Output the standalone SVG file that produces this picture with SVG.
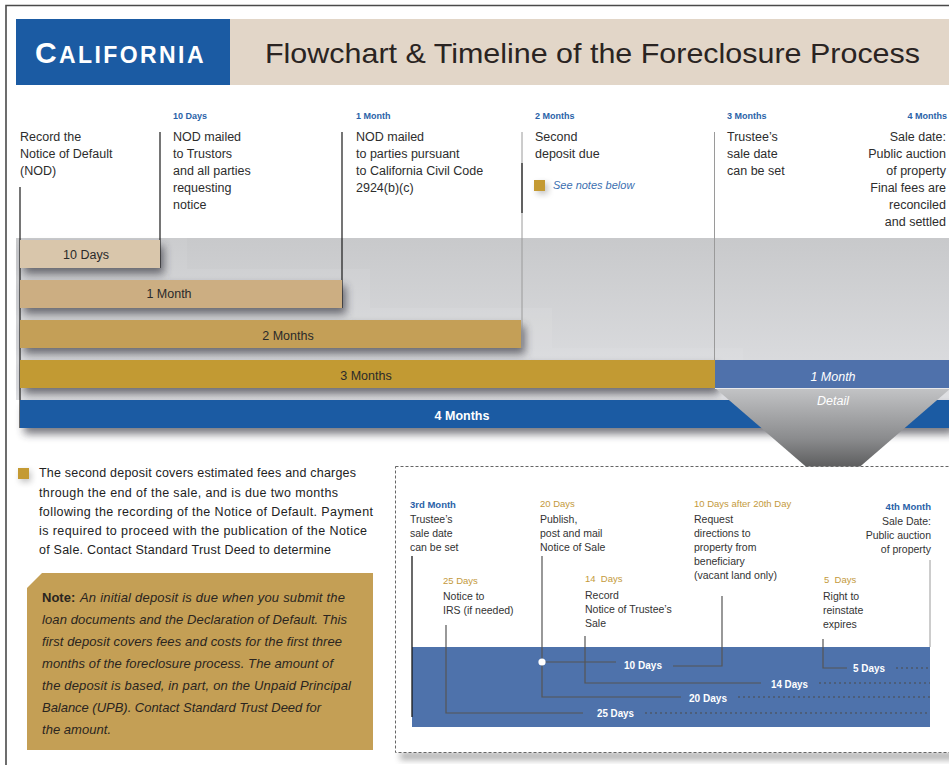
<svg xmlns="http://www.w3.org/2000/svg" width="949" height="765" viewBox="0 0 949 765">
  <defs>
    <style>
      .sans { font-family: "Liberation Sans", Arial, sans-serif; }
      .body { font-family: "Liberation Sans", Arial, sans-serif; font-size: 12.5px; fill: #2d2d2d; }
      .tick { font-family: "Liberation Sans", Arial, sans-serif; font-size: 9px; font-weight: bold; fill: #2a62a8; }
      .bar-label { font-family: "Liberation Sans", Arial, sans-serif; font-size: 12.5px; fill: #2a2a2a; text-anchor: middle; }
      .bar-label-w { font-family: "Liberation Sans", Arial, sans-serif; font-size: 12.5px; fill: #ffffff; text-anchor: middle; }
      .dtext { font-family: "Liberation Sans", Arial, sans-serif; font-size: 10.5px; fill: #333; }
      .dgold { font-family: "Liberation Sans", Arial, sans-serif; font-size: 9.5px; fill: #c49a3c; }
      .dblue { font-family: "Liberation Sans", Arial, sans-serif; font-size: 9.5px; font-weight: bold; fill: #2a62a8; }
      .dspan { font-family: "Liberation Sans", Arial, sans-serif; font-size: 11px; font-weight: bold; fill: #fff; text-anchor: middle; }
      .para { font-family: "Liberation Sans", Arial, sans-serif; font-size: 12.5px; fill: #222; }
      .note { font-family: "Liberation Sans", Arial, sans-serif; font-size: 13px; font-style: italic; fill: #2a2520; }
      .tl-dark { stroke: #1a1a1a; stroke-width: 1.2; fill: none; }
      .tl-gray { stroke: #9a9a9a; stroke-width: 1; fill: none; }
      .d-line { stroke: #555; stroke-width: 1.2; fill: none; }
      .d-dot { stroke: #4a4a4a; stroke-width: 1.2; stroke-dasharray: 2 3; fill: none; }
    </style>
    <linearGradient id="bandGrad" x1="0" y1="0" x2="0" y2="1">
      <stop offset="0" stop-color="#c8c9cb"/>
      <stop offset="1" stop-color="#dfe0e3"/>
    </linearGradient>
    <linearGradient id="funnelGrad" x1="0" y1="0" x2="0" y2="1">
      <stop offset="0" stop-color="#c3c4c6"/>
      <stop offset="0.5" stop-color="#8a8b8d"/>
      <stop offset="1" stop-color="#383838"/>
    </linearGradient>
    <filter id="barShadow" x="-10%" y="-30%" width="130%" height="200%">
      <feGaussianBlur stdDeviation="4"/>
    </filter>
    <filter id="softBlur" x="-50%" y="-50%" width="200%" height="200%">
      <feGaussianBlur stdDeviation="3"/>
    </filter>
  </defs>

  <!-- page frame -->
  <rect x="0" y="0" width="949" height="765" fill="#ffffff"/>
  <path d="M6,765 V5.5 H949" stroke="#4a4a4a" stroke-width="1.6" fill="none"/>

  <!-- header -->
  <g id="header">
    <rect x="16" y="19" width="214" height="66" fill="#1b5ba3"/>
    <rect x="230" y="19" width="719" height="66" fill="#e2d6c8"/>
    <text x="35" y="63" class="sans" fill="#ffffff" font-weight="bold" letter-spacing="2.4"><tspan font-size="30">C</tspan><tspan font-size="23">ALIFORNIA</tspan></text>
    <text x="265" y="63" class="sans" font-size="28" fill="#2a2422" textLength="655" lengthAdjust="spacingAndGlyphs">Flowchart &amp; Timeline of the Foreclosure Process</text>
  </g>

  <!-- shaded band behind the bars -->
  <rect x="16" y="238" width="933" height="162" fill="url(#bandGrad)"/>
  <g fill="#ffffff" opacity="0.07">
    <rect x="20" y="238" width="167" height="42"/>
    <rect x="20" y="269" width="350" height="51"/>
    <rect x="20" y="308" width="532" height="52"/>
    <rect x="20" y="348" width="723" height="52"/>
  </g>

  <!-- bar shadows -->
  <g fill="#30333a" opacity="0.65" filter="url(#barShadow)">
    <rect x="24" y="246" width="140" height="28"/>
    <rect x="24" y="286" width="322" height="28"/>
    <rect x="24" y="326" width="501" height="28"/>
    <rect x="24" y="366" width="695" height="28"/>
    <rect x="24" y="406" width="930" height="28"/>
  </g>

  <!-- timeline markers -->
  <g id="connectors">
    <line x1="20" y1="187" x2="20" y2="428" class="tl-dark"/>
    <line x1="160" y1="132" x2="160" y2="268" class="tl-dark"/>
    <line x1="342" y1="132" x2="342" y2="308" class="tl-dark"/>
    <line x1="522" y1="132" x2="522" y2="348" class="tl-gray"/>
    <line x1="522" y1="163" x2="522" y2="213" class="tl-dark"/>
    <line x1="714.5" y1="132" x2="714.5" y2="360" class="tl-gray"/>
  </g>

  <!-- duration bars -->
  <g id="bar-10days">
    <rect x="20" y="240" width="140" height="28" fill="#d9c6ab"/>
    <text x="86" y="259" class="bar-label">10 Days</text>
  </g>
  <g id="bar-1month">
    <rect x="20" y="280" width="322" height="28" fill="#ccae82"/>
    <text x="169" y="298" class="bar-label">1 Month</text>
  </g>
  <g id="bar-2months">
    <rect x="20" y="320" width="501" height="28" fill="#c49f57"/>
    <text x="288" y="340" class="bar-label">2 Months</text>
  </g>
  <g id="bar-3months">
    <rect x="20" y="360" width="695" height="28" fill="#c29a33"/>
    <text x="366" y="380" class="bar-label">3 Months</text>
  </g>
  <g id="bar-4months">
    <rect x="20" y="400" width="929" height="28" fill="#1b5ba3"/>
    <text x="462" y="420" class="bar-label-w" font-weight="bold">4 Months</text>
  </g>
  <g id="bar-last-month">
    <rect x="715" y="360" width="234" height="28" fill="#4f71ab"/>
    <text x="833" y="381" class="bar-label-w" font-style="italic">1 Month</text>
  </g>

  <!-- funnel into detail -->
  <g id="detail-funnel">
    <polygon points="715,388 951,388 833,490" fill="url(#funnelGrad)"/>
    <line x1="715" y1="388.5" x2="949" y2="388.5" stroke="#e8e8ea" stroke-width="1"/>
    <text x="833" y="405" class="bar-label-w" font-style="italic">Detail</text>
  </g>

  <!-- milestones along the top -->
  <g id="step-record">
    <text class="body"><tspan x="20" y="141">Record the</tspan><tspan x="20" y="158">Notice of Default</tspan><tspan x="20" y="175">(NOD)</tspan></text>
  </g>
  <g id="step-10days">
    <text x="173" y="119" class="tick">10 Days</text>
    <text class="body"><tspan x="173" y="141">NOD mailed</tspan><tspan x="173" y="158">to Trustors</tspan><tspan x="173" y="175">and all parties</tspan><tspan x="173" y="192">requesting</tspan><tspan x="173" y="209">notice</tspan></text>
  </g>
  <g id="step-1month">
    <text x="356" y="119" class="tick">1 Month</text>
    <text class="body"><tspan x="356" y="141">NOD mailed</tspan><tspan x="356" y="158">to parties pursuant</tspan><tspan x="356" y="175">to California Civil Code</tspan><tspan x="356" y="192">2924(b)(c)</tspan></text>
  </g>
  <g id="step-2months">
    <text x="535" y="119" class="tick">2 Months</text>
    <text class="body"><tspan x="535" y="141">Second</tspan><tspan x="535" y="158">deposit due</tspan></text>
    <rect x="537" y="183" width="11" height="11" fill="#555" opacity="0.35" filter="url(#softBlur)"/>
    <rect x="534" y="180" width="11" height="11" fill="#c49a33"/>
    <text x="553" y="189" class="sans" font-size="11" font-style="italic" fill="#3b6fb0">See notes below</text>
  </g>
  <g id="step-3months">
    <text x="727" y="119" class="tick">3 Months</text>
    <text class="body"><tspan x="727" y="141">Trustee’s</tspan><tspan x="727" y="158">sale date</tspan><tspan x="727" y="175">can be set</tspan></text>
  </g>
  <g id="step-4months">
    <text x="947" y="119" class="tick" text-anchor="end">4 Months</text>
    <text class="body" text-anchor="end"><tspan x="946" y="141">Sale date:</tspan><tspan x="946" y="158">Public auction</tspan><tspan x="946" y="175">of property</tspan><tspan x="946" y="192">Final fees are</tspan><tspan x="946" y="209">reconciled</tspan><tspan x="946" y="226">and settled</tspan></text>
  </g>

  <!-- second deposit note -->
  <g id="deposit-note">
    <rect x="20" y="471" width="11" height="11" fill="#555" opacity="0.35" filter="url(#softBlur)"/>
    <rect x="18" y="468" width="11" height="11" fill="#c49a33"/>
    <text class="para">
      <tspan x="39" y="477" textLength="317" lengthAdjust="spacing">The second deposit covers estimated fees and charges</tspan>
      <tspan x="39" y="497" textLength="299" lengthAdjust="spacing">through the end of the sale, and is due two months</tspan>
      <tspan x="39" y="516" textLength="334" lengthAdjust="spacing">following the recording of the Notice of Default. Payment</tspan>
      <tspan x="39" y="535" textLength="328" lengthAdjust="spacing">is required to proceed with the publication of the Notice</tspan>
      <tspan x="39" y="554" textLength="292" lengthAdjust="spacing">of Sale. Contact Standard Trust Deed to determine</tspan>
    </text>
  </g>

  <g id="initial-deposit-note">
    <polygon points="42,573 373,573 373,750 27,750 27,588" fill="#c49f55"/>
    <text class="note">
      <tspan x="42" y="602" font-style="normal" font-weight="bold">Note:</tspan>
      <tspan x="80" y="602" textLength="265" lengthAdjust="spacing">An initial deposit is due when you submit the</tspan>
      <tspan x="42" y="624" textLength="305" lengthAdjust="spacing">loan documents and the Declaration of Default. This</tspan>
      <tspan x="42" y="646" textLength="300" lengthAdjust="spacing">first deposit covers fees and costs for the first three</tspan>
      <tspan x="42" y="668" textLength="291" lengthAdjust="spacing">months of the foreclosure process. The amount of</tspan>
      <tspan x="42" y="690" textLength="309" lengthAdjust="spacing">the deposit is based, in part, on the Unpaid Principal</tspan>
      <tspan x="42" y="712" textLength="279" lengthAdjust="spacing">Balance (UPB). Contact Standard Trust Deed for</tspan>
      <tspan x="42" y="734" textLength="69" lengthAdjust="spacing">the amount.</tspan>
    </text>
  </g>

  <!-- detail panel: the final month -->
  <g id="detail-panel">
    <rect x="400" y="752" width="560" height="8" fill="#555" opacity="0.45" filter="url(#softBlur)"/>
    <rect x="395.5" y="466.5" width="570" height="286" fill="#ffffff" stroke="#666" stroke-width="1" stroke-dasharray="3 2"/>
    <rect x="412" y="647" width="518" height="80" fill="#4e72ab"/>
  </g>

  <g id="detail-connectors">
    <line x1="412" y1="556" x2="412" y2="717" stroke="#1a1a1a" stroke-width="1.3"/>
    <line x1="930" y1="560" x2="930" y2="647" stroke="#9a9a9a" stroke-width="1"/>
    <polyline points="446,625 446,713 583,713" class="d-line"/>
    <line x1="645" y1="713" x2="930" y2="713" class="d-dot"/>
    <polyline points="542,556 542,697 681,697" class="d-line"/>
    <line x1="738" y1="697" x2="930" y2="697" class="d-dot"/>
    <polyline points="585,636 585,683 761,683" class="d-line"/>
    <line x1="819" y1="683" x2="930" y2="683" class="d-dot"/>
    <line x1="542" y1="662" x2="616" y2="662" class="d-line"/>
    <polyline points="673,666 722,666 722,596" class="d-line"/>
    <polyline points="823,639 823,668 847,668" class="d-line"/>
    <line x1="896" y1="668" x2="930" y2="668" class="d-dot"/>
    <circle cx="542" cy="662" r="3.6" fill="#ffffff"/>
  </g>

  <g id="d-3rd-month">
    <text x="410" y="508" class="dblue">3rd Month</text>
    <text class="dtext"><tspan x="410" y="523">Trustee’s</tspan><tspan x="410" y="537">sale date</tspan><tspan x="410" y="551">can be set</tspan></text>
  </g>
  <g id="d-20-days">
    <text x="540" y="507" class="dgold">20 Days</text>
    <text class="dtext"><tspan x="540" y="523">Publish,</tspan><tspan x="540" y="537">post and mail</tspan><tspan x="540" y="551">Notice of Sale</tspan></text>
  </g>
  <g id="d-10-days-after">
    <text x="694" y="507" class="dgold">10 Days after 20th Day</text>
    <text class="dtext"><tspan x="694" y="523">Request</tspan><tspan x="694" y="537">directions to</tspan><tspan x="694" y="551">property from</tspan><tspan x="694" y="565">beneficiary</tspan><tspan x="694" y="579">(vacant land only)</tspan></text>
  </g>
  <g id="d-4th-month">
    <text x="931" y="510" class="dblue" text-anchor="end">4th Month</text>
    <text class="dtext" text-anchor="end"><tspan x="931" y="525">Sale Date:</tspan><tspan x="931" y="539">Public auction</tspan><tspan x="931" y="553">of property</tspan></text>
  </g>
  <g id="d-25-days">
    <text x="443" y="584" class="dgold">25 Days</text>
    <text class="dtext"><tspan x="443" y="600">Notice to</tspan><tspan x="443" y="614">IRS (if needed)</tspan></text>
  </g>
  <g id="d-14-days">
    <text x="585" y="582" class="dgold" xml:space="preserve">14  Days</text>
    <text class="dtext"><tspan x="585" y="599">Record</tspan><tspan x="585" y="613">Notice of Trustee’s</tspan><tspan x="585" y="627">Sale</tspan></text>
  </g>
  <g id="d-5-days">
    <text x="824" y="583" class="dgold" xml:space="preserve">5  Days</text>
    <text class="dtext"><tspan x="823" y="600">Right to</tspan><tspan x="823" y="614">reinstate</tspan><tspan x="823" y="628">expires</tspan></text>
  </g>

  <g id="d-spans">
    <text x="643" y="669" class="dspan" textLength="38" lengthAdjust="spacingAndGlyphs">10 Days</text>
    <text x="869" y="672" class="dspan" textLength="32" lengthAdjust="spacingAndGlyphs">5 Days</text>
    <text x="789.5" y="688" class="dspan" textLength="37" lengthAdjust="spacingAndGlyphs">14 Days</text>
    <text x="708" y="702" class="dspan" textLength="38" lengthAdjust="spacingAndGlyphs">20 Days</text>
    <text x="615.5" y="717" class="dspan" textLength="37" lengthAdjust="spacingAndGlyphs">25 Days</text>
  </g>
</svg>
